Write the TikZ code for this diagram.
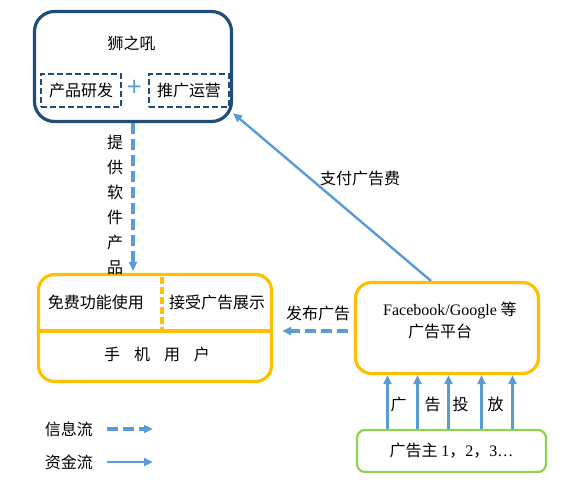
\documentclass[tikz,border=0pt]{standalone}
\usepackage{fontspec}
\setmainfont{Noto Sans CJK SC}
\newfontfamily\latin{Liberation Serif}
\definecolor{DeepBlue}{HTML}{1F4E79}
\definecolor{FlowBlue}{HTML}{5B9BD5}
\definecolor{BoxOrange}{HTML}{FFC000}
\definecolor{BoxGreen}{HTML}{92D050}
\usetikzlibrary{arrows.meta,positioning,calc}
\tikzset{
  mainbox/.style={draw=DeepBlue, line width=3.2pt, rounded corners=20pt, minimum width=197pt, minimum height=110pt},
  dashbox/.style={draw=DeepBlue, line width=1.8pt, dash pattern=on 6pt off 3pt, minimum width=80pt, minimum height=33pt, inner sep=0pt},
  orangebox/.style={draw=BoxOrange, line width=3.2pt, rounded corners=16pt},
  greenbox/.style={draw=BoxGreen, line width=2.2pt, rounded corners=8pt, minimum width=189pt, minimum height=42pt},
  divider/.style={draw=BoxOrange, line width=3.2pt},
  infoarrow/.style={-{Triangle[length=9pt,width=8pt]}, line width=3.2pt, draw=FlowBlue, dash pattern=on 11pt off 5pt},
  payarrow/.style={-{Triangle[length=9pt,width=8pt]}, line width=2.4pt, draw=FlowBlue}
}

\begin{document}
\begin{tikzpicture}[x=1pt, y=-1pt, font=\fontsize{16}{20}\selectfont]
\useasboundingbox (0,0) rectangle (574,484);

% 狮之吼
\node[mainbox] (shizhihou) at (133,66.5) {};
\node (title) at (131.5,43) {狮之吼};
\node[dashbox] (research) at (81,90.5) {产品研发};
\node[dashbox] (promotion) at (189,90.5) {推广运营};
\node[text=FlowBlue, font=\fontsize{26}{26}\selectfont] (plus) at (135,88) {+};

% 手机用户
\node[orangebox, minimum width=233pt, minimum height=107pt] (phone) at (155,328) {};
\draw[divider] ($(phone.west)+(0,3)$) -- ($(phone.east)+(0,3)$);
\draw[divider, dash pattern=on 7pt off 3pt] ($(phone.north)+(7,4)$) -- ($(phone.center)+(7,3)$);
\node (free) at (96,302) {免费功能使用};
\node (adshow) at (217,302) {接受广告展示};
\node (users) at (157,354) {手\hspace{14pt}机\hspace{14pt}用\hspace{14pt}户};

% 广告平台
\node[orangebox, minimum width=183pt, minimum height=91pt] (platform) at (447,328) {};
\node[anchor=west, align=left, inner sep=0pt, font=\fontsize{16}{22}\selectfont] (platformtext) at (383,320)
  {{\latin Facebook/Google} 等\\\hspace*{25pt}广告平台};

% 广告主
\node[greenbox] (advertiser) at (451.5,451) {广告主 {\latin 1}，{\latin 2}，{\latin 3…}};
\foreach \dx in {-64,-34,-3,30,61}
  \draw[payarrow] ([xshift=\dx pt]advertiser.north) -- ([xshift=\dx pt]advertiser.north |- platform.south);
\foreach \dx/\ch [count=\i] in {-53/广,-19/告,9/投,44/放}
  \node (put\i) at ([xshift=\dx pt, yshift=24pt]advertiser.north) {\ch};

% flows
\draw[infoarrow, shorten >=2pt] (shizhihou.south) -- (shizhihou.south |- phone.north);
\node[align=center, font=\fontsize{16}{25}\selectfont] (software) at (115,205) {提\\供\\软\\件\\产\\品};
\draw[payarrow] ([xshift=-16pt]platform.north) -- (shizhihou.-25);
\node (fee) at (360,178) {支付广告费};
\draw[infoarrow, shorten <=6pt, shorten >=9pt] ([yshift=-3pt]platform.west) -- ([yshift=-3pt]platform.west -| phone.east);
\node (publish) at (318,313) {发布广告};

% legend
\node (infolabel) at (69,429) {信息流};
\coordinate (infoend) at (153,429);
\draw[infoarrow] (infolabel.east) ++(10,0) -- (infoend);
\node (paylabel) at (69,462) {资金流};
\coordinate (payend) at (153,462);
\draw[payarrow] (paylabel.east) ++(10,0) -- (payend);
\end{tikzpicture}
\end{document}
